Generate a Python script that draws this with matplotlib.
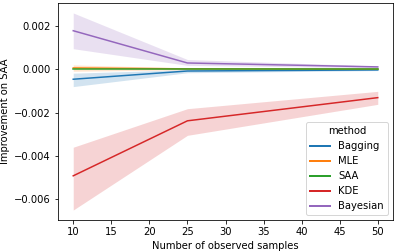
import matplotlib
matplotlib.use("Agg")
import matplotlib.pyplot as plt
import numpy as np

x = [10, 25, 50]
methods = ["Bagging", "MLE", "SAA", "KDE", "Bayesian"]
colors = ["#1f77b4", "#ff7f0e", "#2ca02c", "#d62728", "#9467bd"]

mean = {
    "Bagging": [-0.00046, -0.00008, -0.00003],
    "MLE": [0.00006, 0.00002, 0.00001],
    "SAA": [0.0, 0.0, 0.0],
    "KDE": [-0.00492, -0.00238, -0.00131],
    "Bayesian": [0.00178, 0.00029, 0.00011],
}
low = {
    "Bagging": [-0.00080, -0.00016, -0.00006],
    "MLE": [-0.00009, -0.00003, -0.00001],
    "SAA": [0.0, 0.0, 0.0],
    "KDE": [-0.00650, -0.00305, -0.00162],
    "Bayesian": [0.00095, 0.00018, 0.00007],
}
high = {
    "Bagging": [-0.00018, -0.00002, 0.00000],
    "MLE": [0.00020, 0.00006, 0.00003],
    "SAA": [0.0, 0.0, 0.0],
    "KDE": [-0.00360, -0.00182, -0.00102],
    "Bayesian": [0.00260, 0.00045, 0.00015],
}

DPI = 72
fig = plt.figure(figsize=(396 / DPI, 251 / DPI), dpi=DPI)
ax = fig.add_axes([58 / 396, 1 - 220 / 251, (393 - 58) / 396, (220 - 3) / 251])

for m, c in zip(methods, colors):
    ax.plot(x, mean[m], color=c, lw=1.5, label=m)
    ax.fill_between(x, low[m], high[m], color=c, alpha=0.2, lw=0)

ax.set_xlabel("Number of observed samples")
ax.set_ylabel("Improvement on SAA")
ax.set_xticks([10, 15, 20, 25, 30, 35, 40, 45, 50])
ax.set_xlim(8, 52)
ax.set_ylim(-0.00696, 0.00306)
ax.set_yticks([-0.006, -0.004, -0.002, 0.0, 0.002])
ax.set_yticklabels(["\u22120.006", "\u22120.004", "\u22120.002", "0.000", "0.002"])
leg = ax.legend(title="method", loc="lower right")
for h in leg.get_lines():
    h.set_linewidth(2.0)

fig.savefig("out.png", dpi=DPI)
